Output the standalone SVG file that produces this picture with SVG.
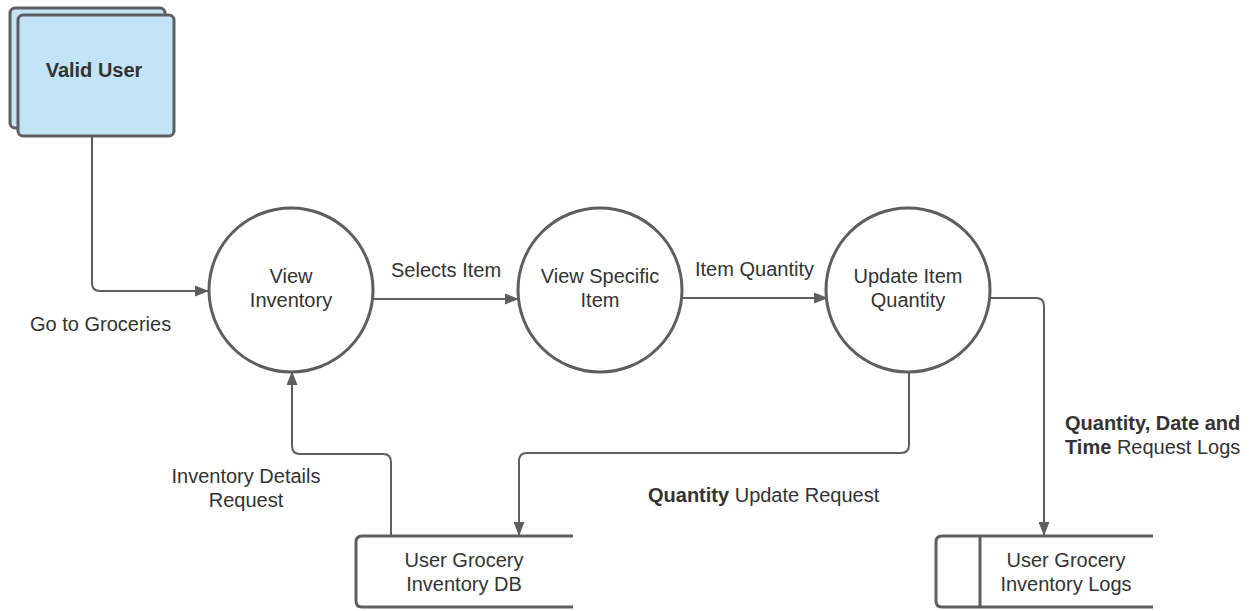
<svg xmlns="http://www.w3.org/2000/svg" width="1256" height="611" viewBox="0 0 1256 611">
  <style>
    .txt { font-family: "Liberation Sans", Arial, sans-serif; font-size: 20px; fill: #333333; }
    .b { font-weight: bold; }
    .mid { text-anchor: middle; }
    .proc { fill: #ffffff; stroke: #5e5e5e; stroke-width: 3; }
    .store { fill: none; stroke: #5e5e5e; stroke-width: 3; }
    .ent { fill: #c3e4f7; stroke: #5e5e5e; stroke-width: 3; }
    .flow { fill: none; stroke: #5e5e5e; stroke-width: 2; marker-end: url(#arrow); }
  </style>
  <defs>
    <marker id="arrow" viewBox="0 0 14 11" refX="13" refY="5.5" markerWidth="14" markerHeight="11" markerUnits="userSpaceOnUse" orient="auto">
      <path d="M0,0 L14,5.5 L0,11 Z" fill="#5e5e5e"/>
    </marker>
  </defs>

  <rect width="1256" height="611" fill="#ffffff"/>

  <!-- data flows -->
  <g id="connectors">
    <path class="flow" d="M92,137 V283 Q92,291 100,291 H208"/>
    <path class="flow" d="M373,299 H518"/>
    <path class="flow" d="M682,298 H827"/>
    <path class="flow" d="M990,298 H1036 Q1044,298 1044,306 V535"/>
    <path class="flow" d="M909,372 V445 Q909,453 901,453 H527 Q519,453 519,461 V535"/>
    <path class="flow" d="M391,535 V462 Q391,454 383,454 H300 Q292,454 292,446 V372"/>
  </g>

  <!-- external entity -->
  <g id="valid-user">
    <rect class="ent" x="10" y="8" width="155" height="120" rx="5"/>
    <rect class="ent" x="18" y="15" width="156" height="121" rx="5"/>
    <text class="txt b mid" x="94" y="77">Valid User</text>
  </g>

  <!-- processes -->
  <g id="view-inventory">
    <circle class="proc" cx="291" cy="290" r="82"/>
    <text class="txt mid" x="291" y="283">View</text>
    <text class="txt mid" x="291" y="307">Inventory</text>
  </g>
  <g id="view-specific-item">
    <circle class="proc" cx="600" cy="290" r="82"/>
    <text class="txt mid" x="600" y="283">View Specific</text>
    <text class="txt mid" x="600" y="307">Item</text>
  </g>
  <g id="update-item-quantity">
    <circle class="proc" cx="908" cy="290" r="82"/>
    <text class="txt mid" x="908" y="283">Update Item</text>
    <text class="txt mid" x="908" y="307">Quantity</text>
  </g>

  <!-- data stores -->
  <g id="inventory-db">
    <path class="store" d="M573,536 H362 Q356,536 356,542 V601 Q356,607 362,607 H573"/>
    <text class="txt mid" x="464" y="567">User Grocery</text>
    <text class="txt mid" x="464" y="591">Inventory DB</text>
  </g>
  <g id="inventory-logs">
    <path class="store" d="M1153,536 H942 Q936,536 936,542 V601 Q936,607 942,607 H1153"/>
    <line class="store" x1="980" y1="536" x2="980" y2="607"/>
    <text class="txt mid" x="1066" y="567">User Grocery</text>
    <text class="txt mid" x="1066" y="591">Inventory Logs</text>
  </g>

  <!-- flow labels -->
  <g id="labels">
    <text class="txt" x="30" y="331">Go to Groceries</text>
    <text class="txt" x="391" y="277">Selects Item</text>
    <text class="txt" x="695" y="276">Item Quantity</text>
    <text class="txt mid" x="246" y="483">Inventory Details</text>
    <text class="txt mid" x="246" y="507">Request</text>
    <text class="txt" x="648" y="502"><tspan class="b">Quantity</tspan> Update Request</text>
    <text class="txt b" x="1065" y="430">Quantity, Date and</text>
    <text class="txt" x="1065" y="454"><tspan class="b">Time</tspan> Request Logs</text>
  </g>
</svg>
